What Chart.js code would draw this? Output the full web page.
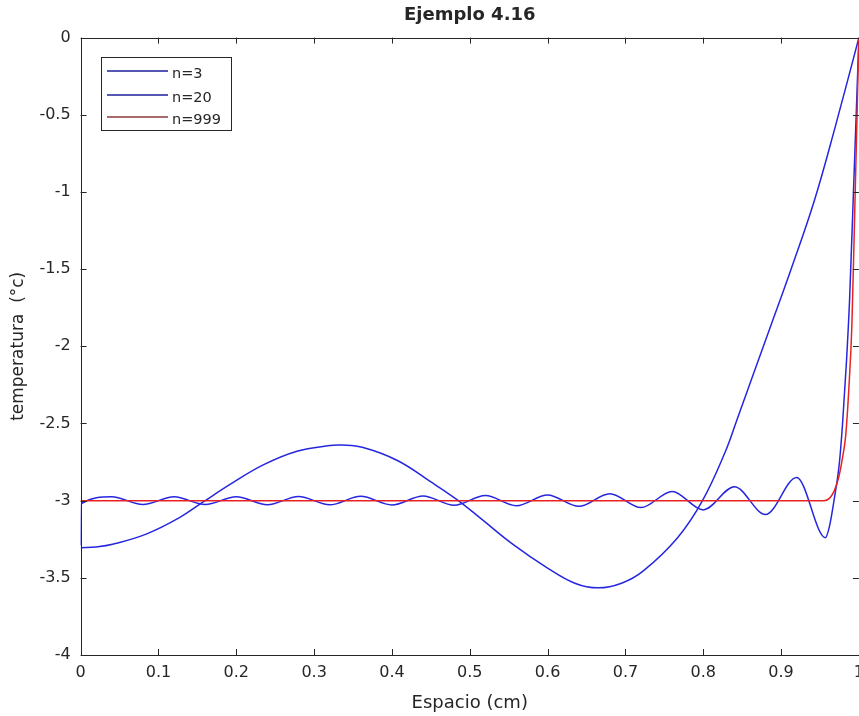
<!DOCTYPE html>
<html>
<head>
<meta charset="utf-8">
<script src="https://cdn.jsdelivr.net/npm/chart.js@4.4.1/dist/chart.umd.min.js"></script>
<style>
  html, body { margin: 0; padding: 0; background: #fff; overflow: hidden; }
</style>
</head>
<body>
<canvas id="chart" width="874" height="716"></canvas>
<script>
// values
const x3 = [0, 0.02, 0.041, 0.085, 0.127, 0.157, 0.192, 0.234, 0.278, 0.32, 0.335, 0.363, 0.407, 0.449, 0.484, 0.514, 0.556, 0.598, 0.635, 0.665, 0.695, 0.723, 0.767, 0.799, 0.829, 0.843, 0.887, 0.9125, 0.943, 0.97, 1.0];
const y3 = [-3.305, -3.30, -3.283, -3.215, -3.11, -3.01, -2.895, -2.77, -2.68, -2.643, -2.64, -2.656, -2.74, -2.875, -2.995, -3.115, -3.285, -3.43, -3.535, -3.565, -3.535, -3.455, -3.24, -3.0, -2.675, -2.48, -1.864, -1.506, -1.052, -0.57, 0];

const x20 = [0, 0.001, 0.04, 0.08, 0.12, 0.16, 0.2, 0.24, 0.28, 0.32, 0.36, 0.4, 0.44, 0.48, 0.52, 0.56, 0.6, 0.64, 0.68, 0.72, 0.76, 0.8, 0.84, 0.88, 0.92, 0.957, 0.962, 0.968, 0.975, 0.979, 0.984, 0.988, 0.993, 1.0];
const y20 = [-3.29, -3.02, -2.975, -3.025, -2.975, -3.025, -2.975, -3.027, -2.973, -3.027, -2.972, -3.028, -2.97, -3.03, -2.967, -3.033, -2.963, -3.037, -2.955, -3.045, -2.94, -3.06, -2.91, -3.09, -2.85, -3.24, -3.17, -3.0, -2.75, -2.5, -2.1, -1.7, -1.0, 0];

const x999 = [0, 0.955, 0.962, 0.968, 0.974, 0.979, 0.983, 0.987, 0.991, 0.995, 1.0];
const y999 = [-3, -3, -2.985, -2.94, -2.85, -2.72, -2.58, -2.28, -1.86, -1.05, 0];

const labels = ['n=3', 'n=20', 'n=999'];
const lineColors = ['#2626e0', '#2626e0', '#e82222'];
const legendColors = ['#1e1e9e', '#1e1e9e', '#8c3a3a'];

const xTicks = [0, 0.1, 0.2, 0.3, 0.4, 0.5, 0.6, 0.7, 0.8, 0.9, 1];
const yTicks = [0, -0.5, -1, -1.5, -2, -2.5, -3, -3.5, -4];

const ink = '#262626';
const FONT = "'DejaVu Sans', sans-serif";

function pts(xs, ys) {
  return xs.map((x, i) => ({ x, y: ys[i] }));
}

// octave-style box, inward ticks and legend
const frame = {
  id: 'frame',
  afterDraw(chart) {
    const { ctx, chartArea: a, scales } = chart;
    ctx.save();
    ctx.strokeStyle = ink;
    ctx.lineWidth = 1;
    ctx.strokeRect(Math.round(a.left) + 0.5, Math.round(a.top) + 0.5,
      Math.round(a.right - a.left), Math.round(a.bottom - a.top));
    const tl = 6;
    ctx.beginPath();
    xTicks.forEach(v => {
      const px = Math.round(scales.x.getPixelForValue(v)) + 0.5;
      ctx.moveTo(px, a.bottom); ctx.lineTo(px, a.bottom - tl);
      ctx.moveTo(px, a.top); ctx.lineTo(px, a.top + tl);
    });
    yTicks.forEach(v => {
      const py = Math.round(scales.y.getPixelForValue(v)) + 0.5;
      ctx.moveTo(a.left, py); ctx.lineTo(a.left + tl, py);
      ctx.moveTo(a.right, py); ctx.lineTo(a.right - tl, py);
    });
    ctx.stroke();

    // legend
    const bx = 101.5, by = 57.5, bw = 130, bh = 73;
    ctx.fillStyle = '#fff';
    ctx.fillRect(bx, by, bw, bh);
    ctx.strokeRect(bx, by, bw, bh);
    const rows = [71, 95, 117];
    ctx.font = '14.5px ' + FONT;
    ctx.textBaseline = 'middle';
    labels.forEach((lab, i) => {
      ctx.strokeStyle = legendColors[i];
      ctx.lineWidth = 1.5;
      ctx.beginPath();
      ctx.moveTo(107, rows[i]); ctx.lineTo(168, rows[i]);
      ctx.stroke();
      ctx.fillStyle = ink;
      ctx.fillText(lab, 172, rows[i] + 3);
    });
    ctx.restore();
  }
};

new Chart(document.getElementById('chart'), {
  type: 'line',
  data: {
    datasets: [
      { label: labels[0], data: pts(x3, y3), borderColor: lineColors[0], order: 2,
        cubicInterpolationMode: 'default', tension: 0.4 },
      { label: labels[1], data: pts(x20, y20), borderColor: lineColors[1], order: 1 },
      { label: labels[2], data: pts(x999, y999), borderColor: lineColors[2], order: 0 }
    ]
  },
  options: {
    responsive: false,
    animation: false,
    datasets: {
      line: { borderWidth: 1.5, pointRadius: 0, cubicInterpolationMode: 'monotone', fill: false }
    },
    layout: { padding: { left: 0, right: 0, top: 0, bottom: 0 } },
    plugins: {
      legend: { display: false },
      tooltip: { enabled: false },
      title: {
        display: true,
        text: 'Ejemplo 4.16',
        fullSize: false,
        color: ink,
        font: { family: FONT, size: 18, weight: 'bold' },
        padding: { top: 5, bottom: 11 }
      }
    },
    scales: {
      x: {
        type: 'linear',
        min: 0, max: 1,
        afterBuildTicks: s => { s.ticks = xTicks.map(v => ({ value: v })); },
        grid: { display: false, drawTicks: false },
        border: { display: false },
        ticks: {
          color: ink, padding: 10,
          font: { family: FONT, size: 16, lineHeight: 1 },
          maxRotation: 0, autoSkip: false,
          callback: v => String(Math.round(v * 10) / 10)
        },
        title: {
          display: true, text: 'Espacio (cm)', color: ink,
          font: { family: FONT, size: 18, lineHeight: 1 },
          padding: { top: 3, bottom: 4 }
        }
      },
      y: {
        type: 'linear',
        min: -4, max: 0,
        afterBuildTicks: s => { s.ticks = yTicks.map(v => ({ value: v })); },
        grid: { display: false, drawTicks: false },
        border: { display: false },
        ticks: {
          color: ink, padding: 10,
          font: { family: FONT, size: 16 },
          autoSkip: false,
          callback: v => String(v)
        },
        title: {
          display: true, text: 'temperatura  (°c)', color: ink,
          font: { family: FONT, size: 17 },
          padding: { top: 8, bottom: 1 }
        }
      }
    }
  },
  plugins: [frame]
});
</script>
</body>
</html>
